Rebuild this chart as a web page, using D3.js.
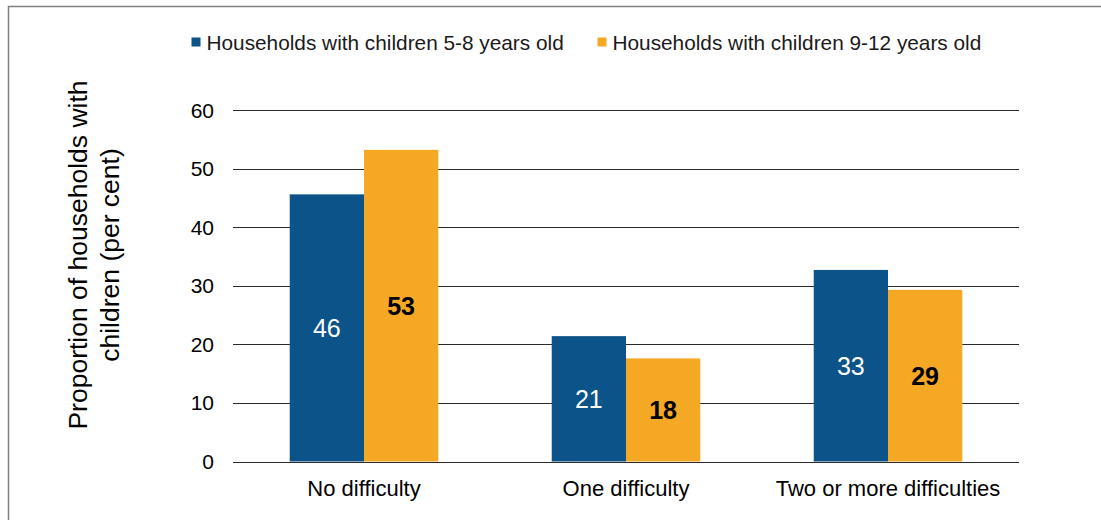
<!DOCTYPE html>
<html>
<head>
<meta charset="utf-8">
<script src="https://cdn.jsdelivr.net/npm/d3@7"></script>
<style>
  html, body { margin: 0; padding: 0; background: #fff; }
  svg { display: block; font-family: "Liberation Sans", Arial, sans-serif; }
</style>
</head>
<body>
<svg id="chart" width="1101" height="520"></svg>
<script>
// ---- data ----
const categories = ["No difficulty", "One difficulty", "Two or more difficulties"];
const seriesNames = ["Households with children 5-8 years old", "Households with children 9-12 years old"];
const values5to8 = [45.6, 21.4, 32.7];
const values9to12 = [53.2, 17.6, 29.3];
const yTicks = [0, 10, 20, 30, 40, 50, 60];
const yTitleLines = ["Proportion of households with", "children (per cent)"];

const colors = ["#0B5389", "#F5A823"];
const labelColors = ["#ffffff", "#000000"];
const labelWeights = ["normal", "bold"];

const svg = d3.select("#chart");

// frame
svg.append("rect")
  .attr("x", 8.5).attr("y", 6.5)
  .attr("width", 1110).attr("height", 530)
  .attr("fill", "none").attr("stroke", "#7f7f7f").attr("stroke-width", 1.5);

const x0 = d3.scaleBand().domain(categories).range([233, 1019])
  .paddingInner(0.433).paddingOuter(0.2165);
const x1 = d3.scaleBand().domain([0, 1]).range([0, x0.bandwidth()]).padding(0);
const y = d3.scaleLinear().domain([0, 60]).range([461.5, 110]);

// grid lines
svg.append("g").selectAll("line").data(yTicks).join("line")
  .attr("x1", 233).attr("x2", 1019)
  .attr("y1", d => Math.round(y(d)) + 0.5).attr("y2", d => Math.round(y(d)) + 0.5)
  .attr("stroke", "#2b2b2b").attr("stroke-width", 1.2);

// y tick labels
svg.append("g").selectAll("text").data(yTicks).join("text")
  .attr("x", 214).attr("y", d => y(d))
  .attr("dy", "0.36em")
  .attr("text-anchor", "end")
  .attr("font-size", 21)
  .attr("fill", "#000")
  .text(d => d);

// bars
const series = [values5to8, values9to12];
const rows = [];
categories.forEach((c, i) => series.forEach((s, j) => rows.push({ c, j, v: s[i] })));

svg.append("g").selectAll("rect").data(rows).join("rect")
  .attr("x", d => x0(d.c) + x1(d.j))
  .attr("y", d => y(d.v))
  .attr("width", x1.bandwidth())
  .attr("height", d => y(0) - y(d.v))
  .attr("fill", d => colors[d.j]);

// value labels
svg.append("g").selectAll("text").data(rows).join("text")
  .attr("x", d => x0(d.c) + x1(d.j) + x1.bandwidth() / 2)
  .attr("y", d => (y(d.v) + y(0)) / 2)
  .attr("dy", "0.36em")
  .attr("text-anchor", "middle")
  .attr("font-size", 25)
  .attr("font-weight", d => labelWeights[d.j])
  .attr("fill", d => labelColors[d.j])
  .text(d => d3.format(".0f")(d.v));

// category labels
svg.append("g").selectAll("text").data(categories).join("text")
  .attr("x", d => x0(d) + x0.bandwidth() / 2)
  .attr("y", 496)
  .attr("text-anchor", "middle")
  .attr("font-size", 22)
  .attr("fill", "#000")
  .text(d => d);

// y axis title
const yt = svg.append("text")
  .attr("transform", "translate(0,255) rotate(-90)")
  .attr("text-anchor", "middle")
  .attr("font-size", 26.5)
  .attr("fill", "#000");
yt.selectAll("tspan").data(yTitleLines).join("tspan")
  .attr("x", 0)
  .attr("y", (d, i) => 87 + i * 32)
  .text(d => d);

// legend
const legendX = [191.5, 597.5];
const lg = svg.append("g").selectAll("g").data(seriesNames).join("g")
  .attr("transform", (d, i) => `translate(${legendX[i]},0)`);
lg.append("rect")
  .attr("x", 0).attr("y", 37.5).attr("width", 9).attr("height", 9)
  .attr("fill", (d, i) => colors[i]);
lg.append("text")
  .attr("x", 15).attr("y", 50)
  .attr("font-size", 20.8)
  .attr("fill", "#1a1a1a")
  .text(d => d);
</script>
</body>
</html>
